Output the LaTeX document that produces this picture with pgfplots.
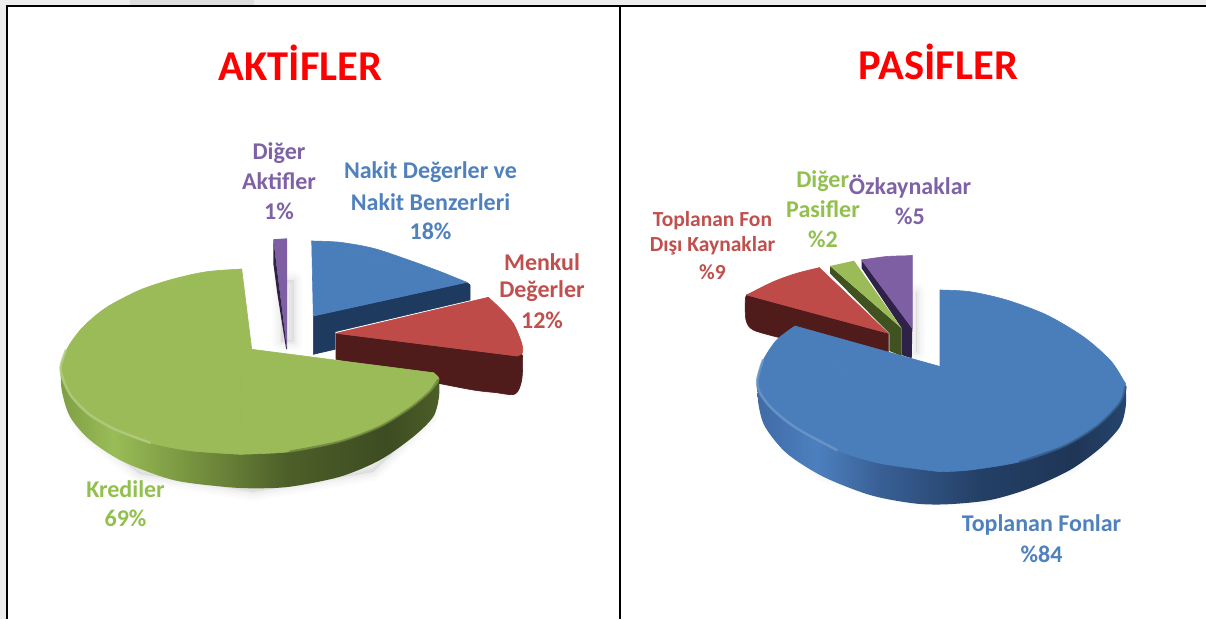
\documentclass[border=0pt]{standalone}
\usepackage{pgfplots}
\pgfplotsset{compat=1.18}
\usepackage{fontspec}
\setmainfont{Carlito}
\definecolor{lblblue}{HTML}{4F81BD}
\definecolor{lblred}{HTML}{C0504D}
\definecolor{lblgreen}{HTML}{92C04F}
\definecolor{lblpurple}{HTML}{7F62A5}
\definecolor{topblue}{HTML}{4A7EBB}
\definecolor{topred}{HTML}{BE4B48}
\definecolor{topgreen}{HTML}{9BBB59}
\definecolor{toppurple}{HTML}{7F5FA3}
\definecolor{sideblue}{HTML}{1F3A5F}
\definecolor{sidered}{HTML}{4F1C1B}
\definecolor{sidegreen}{HTML}{3F5220}
\definecolor{sidepurple}{HTML}{2F2248}
\pgfdeclarehorizontalshading{greenside}{100bp}{
 rgb(0bp)=(0.50,0.62,0.27);
 rgb(25bp)=(0.50,0.62,0.27);
 rgb(32bp)=(0.60,0.74,0.34);
 rgb(42bp)=(0.47,0.58,0.25);
 rgb(55bp)=(0.30,0.37,0.16);
 rgb(68bp)=(0.24,0.30,0.13);
 rgb(75bp)=(0.30,0.37,0.16);
 rgb(100bp)=(0.30,0.37,0.16)}
\pgfdeclarehorizontalshading{blueside}{100bp}{
 rgb(0bp)=(0.25,0.42,0.65);
 rgb(25bp)=(0.25,0.42,0.65);
 rgb(33bp)=(0.30,0.50,0.75);
 rgb(42bp)=(0.22,0.37,0.58);
 rgb(55bp)=(0.14,0.25,0.40);
 rgb(68bp)=(0.12,0.21,0.34);
 rgb(75bp)=(0.15,0.27,0.43);
 rgb(100bp)=(0.15,0.27,0.43)}
\pgfplotsset{seam/.style={fill=#1,draw=#1,line width=0.6pt,line join=round}}
\newcommand{\lab}[5]{\node[text=#4,font=\fontsize{#3}{#3}\selectfont\bfseries,anchor=center,inner sep=0pt] at (axis cs:#1,#2) {#5};}
\newcommand{\softshadow}[1]{%
 \addplot[fill=black,fill opacity=0.012,draw=black,draw opacity=0.010,line width=18pt,line join=round] coordinates {#1} --cycle;
 \addplot[fill=black,fill opacity=0.012,draw=black,draw opacity=0.012,line width=14pt,line join=round] coordinates {#1} --cycle;
 \addplot[fill=black,fill opacity=0.012,draw=black,draw opacity=0.014,line width=10pt,line join=round] coordinates {#1} --cycle;
 \addplot[fill=black,fill opacity=0.012,draw=black,draw opacity=0.016,line width=6pt,line join=round] coordinates {#1} --cycle;
 \addplot[fill=black,fill opacity=0.012,draw=black,draw opacity=0.018,line width=3pt,line join=round] coordinates {#1} --cycle;
}
\begin{document}
\begin{tikzpicture}
\begin{axis}[
  width=1206pt,height=619pt,scale only axis,
  xmin=0,xmax=1206,ymin=0,ymax=619,y dir=reverse,
  axis lines=none,no markers,clip=true,tension=0.5]
% page background
\addplot[fill=white,draw=none] coordinates {(0,0)(1206,0)(1206,619)(0,619)} --cycle;
\addplot[fill=black!7,draw=none] coordinates {(0,0)(1206,0)(1206,5)(0,5)} --cycle;
\addplot[fill=black!7,draw=none] coordinates {(0,0)(6,0)(6,619)(0,619)} --cycle;
\addplot[fill=black!13,draw=none] coordinates {(130,0)(254,0)(254,5)(130,5)} --cycle;
% frame
\addplot[black,line width=2.2pt] coordinates {(7,619)(7,6)(1206,6)};
\addplot[black,line width=2pt] coordinates {(619.5,6)(619.5,619)};
%
% ===== AKTIFLER =====
\softshadow{(68,395)(85,432)(140,474)(253,492)(373,472)(430,417)(425,395)(80,395)}
\softshadow{(445,378)(512,390)(510,365)(445,365)}
\softshadow{(281,280)(294,280)(294,342)(281,342)}
% blue slice
\addplot[seam=sideblue] coordinates {(313.3,316)(466.7,282.3)(470,285)(470,300)(335,331.7)(335,349.3)(313.3,354.3)} --cycle;
\addplot[smooth,seam=topblue] coordinates {(311.7,241)(340,242.3)(373.3,248.3)(406.7,259.3)(440,271.5)(466.7,282.3)} --cycle;
\addplot[seam=topblue] coordinates {(311.7,241)(466.7,282.3)(313.3,316)} --cycle;
% purple slice
\addplot[fill=toppurple,draw=none] coordinates {(273.3,239.3)(287,238.3)(287,349.3)} --cycle;
\addplot[fill=sidepurple,draw=none] coordinates {(273.3,239.3)(273.3,263.3)(277.3,293.3)(286,348.3)(287,349.3)} --cycle;
% red slice
\addplot[smooth,seam=sidered] coordinates {(516.7,356)(522.3,355)(521.7,380)(515,394)(495,392.5)(473.3,390)(438.3,383.3)} --cycle;
\addplot[seam=sidered] coordinates {(336,333.3)(516.7,356)(438.3,383.3)(336,359.3)} --cycle;
\addplot[smooth,seam=topred] coordinates {(488.3,297.3)(500,308.3)(513.3,323.3)(521.7,343.3)(522.3,353)(516.7,356)} --cycle;
\addplot[seam=topred] coordinates {(336,333.3)(488.3,297.3)(516.7,356)} --cycle;
% green slice
\addplot[smooth,shade,shading=greenside,draw=none] coordinates {(60.7,366.7)(61.7,390)(70,416.7)(90,440)(123.3,461.7)(173.3,480)(223.3,486.7)(253.3,488.3)(290,486.7)(340,476.7)(380,460)(413.3,436.7)(433.3,416.7)(439,396.7)(439,379.3)} --cycle;
\addplot[smooth,seam=topgreen] coordinates {(241.7,269)(206.7,271.7)(173.3,279)(140,290)(106.7,307.3)(83.3,326.7)(68.3,346.7)(60.7,366.7)(63.3,380)(71.7,396.7)(90,415)(116.7,430)(150,442.7)(190,450.7)(240,454.3)} --cycle;
\addplot[smooth,seam=topgreen] coordinates {(240,454.3)(290,451.7)(340,441.7)(380,426.7)(410,408.3)(430,391.7)(439,379.3)(433.3,372.7)} --cycle;
\addplot[seam=topgreen] coordinates {(241.7,269)(240,454.3)(433.3,372.7)(251.7,349.3)} --cycle;
\addplot[smooth,color=topgreen!75!white,line width=2.5pt,line cap=round,opacity=0.8] coordinates {(66,350)(60.7,366.7)(63.3,380)(71.7,396.7)(90,415)(116.7,430)(150,442.7)};
\addplot[smooth,color=topgreen!60!black,line width=2.5pt,line cap=round,opacity=0.6] coordinates {(290,451.7)(340,441.7)(380,426.7)(410,408.3)(430,391.7)(438,380)};
%
% ===== PASIFLER =====
\softshadow{(768,400)(778,428)(823,473)(913,498)(990,496)(1070,466)(1112,428)(1108,400)(780,400)}
\softshadow{(916,292)(917,292)(917,352)(916,352)}
\softshadow{(755,322)(775,330)(760,327)}
% purple
\addplot[fill=sidepurple,draw=none] coordinates {(861.7,260)(861.7,268.3)(901.7,328.3)(901.7,355)(911.7,358.3)(912.3,328.3)} --cycle;
\addplot[smooth,seam=toppurple] coordinates {(861.7,260)(886.7,256.5)(912.3,255.7)} --cycle;
\addplot[seam=toppurple] coordinates {(861.7,260)(912.3,255.7)(912.3,328.3)} --cycle;
% green
\addplot[fill=sidegreen,draw=none] coordinates {(830,266)(830,273.3)(889.3,333.3)(889.3,351)(901.7,356)(901.7,328.3)} --cycle;
\addplot[fill=topgreen,draw=none] coordinates {(830,266)(854,260.7)(901.7,328.3)} --cycle;
% red
\addplot[smooth,seam=sidered] coordinates {(746.7,295)(745.3,300)(746,320)(753.3,330)(780,337.7)} --cycle;
\addplot[seam=sidered] coordinates {(746.7,295)(780,337.7)(888.3,351.7)(888.3,333.3)} --cycle;
\addplot[smooth,seam=topred] coordinates {(746.7,295)(773.3,281.7)(796.7,273.3)(819.3,267.7)} --cycle;
\addplot[seam=topred] coordinates {(746.7,295)(819.3,267.7)(888.3,333.3)} --cycle;
% blue
\addplot[smooth,shade,shading=blueside,draw=none] coordinates {(757.3,380)(758.3,403.3)(765,426.7)(786.7,453.3)(823.3,476.7)(870,495)(913.3,503.3)(946.7,504.3)(990,500)(1030,488.3)(1070,470)(1100,448.3)(1120,426.7)(1125.7,406.7)(1125.7,386.7)} --cycle;
\addplot[smooth,seam=topblue] coordinates {(940,290)(970,291.7)(1006.7,300)(1046.7,315)(1083.3,336.7)(1110,360)(1123.3,380)(1125.7,386.7)(1120,403.3)(1096.7,426.7)(1063.3,446.7)(1020,461.7)(970,470)(940,471.7)} --cycle;
\addplot[smooth,seam=topblue] coordinates {(940,471.7)(880,463.3)(836.7,450)(796.7,428.3)(773.3,410)(760,393.3)(757.3,380)(763.3,360)(776.7,340)(795,326)} --cycle;
\addplot[seam=topblue] coordinates {(940,471.7)(795,326)(940.7,366.7)} --cycle;
\addplot[smooth,color=topblue!80!white,line width=2.5pt,line cap=round,opacity=0.8] coordinates {(763,360)(757.3,380)(760,393.3)(773.3,410)(796.7,428.3)(836.7,450)};
\addplot[smooth,color=topblue!60!black,line width=2.5pt,line cap=round,opacity=0.6] coordinates {(1020,461.7)(1063.3,446.7)(1096.7,426.7)(1120,403.3)(1125.7,386.7)};
%
% ===== TEXT =====
\lab{300.5}{63}{42.5}{red}{AKTİFLER}
\lab{938.5}{62}{42.5}{red}{PASİFLER}
\lab{279}{153}{24}{lblpurple}{Diğer}
\lab{279}{181}{24}{lblpurple}{Aktifler}
\lab{279}{211}{24}{lblpurple}{1\%}
\lab{430.5}{172}{24}{lblblue}{Nakit Değerler ve}
\lab{430.5}{202}{24}{lblblue}{Nakit Benzerleri}
\lab{430.5}{231}{24}{lblblue}{18\%}
\lab{542}{262}{24}{lblred}{Menkul}
\lab{542}{291}{24}{lblred}{Değerler}
\lab{542}{320}{24}{lblred}{12\%}
\lab{125.5}{489}{24}{lblgreen}{Krediler}
\lab{125.5}{518}{24}{lblgreen}{69\%}
\lab{822.7}{180.7}{24}{lblgreen}{Diğer}
\lab{823}{209}{24}{lblgreen}{Pasifler}
\lab{823}{239}{24}{lblgreen}{\%2}
\lab{910}{186.7}{24}{lblpurple}{Özkaynaklar}
\lab{910}{216}{24}{lblpurple}{\%5}
\lab{712.5}{221}{21.5}{lblred}{Toplanan Fon}
\lab{712.5}{246}{21.5}{lblred}{Dışı Kaynaklar}
\lab{712.5}{272}{21.5}{lblred}{\%9}
\lab{1041.5}{525}{24}{lblblue}{Toplanan Fonlar}
\lab{1041.5}{554}{24}{lblblue}{\%84}
\end{axis}
\end{tikzpicture}
\end{document}
